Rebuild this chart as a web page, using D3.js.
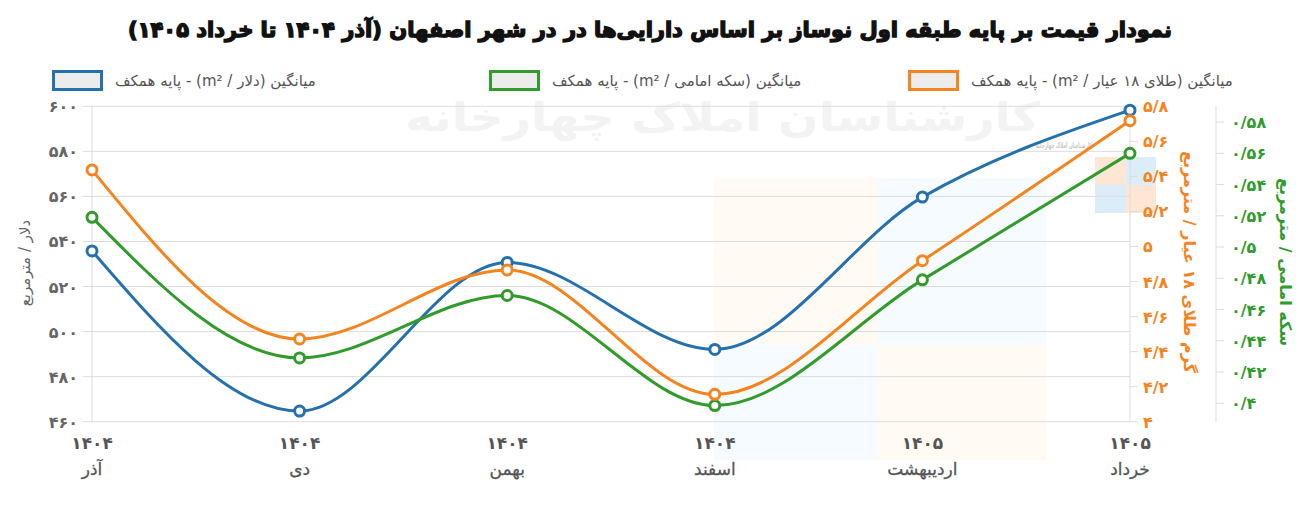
<!DOCTYPE html>
<html>
<head>
<meta charset="utf-8">
<script src="https://cdn.jsdelivr.net/npm/d3@7"></script>
<style>
  body { margin: 0; background: #fff; }
  svg { display: block; font-family: "DejaVu Sans", sans-serif; }
</style>
</head>
<body>
<div id="chart"></div>
<script>
// data
const months = ["آذر", "دی", "بهمن", "اسفند", "اردیبهشت", "خرداد"];
const years = [1404, 1404, 1404, 1404, 1405, 1405];
const dollarValues = [535.8, 464.7, 530.7, 492.1, 559.7, 598.3];
const goldValues = [5.437, 4.472, 4.866, 4.156, 4.919, 5.718];
const coinValues = [0.519, 0.429, 0.469, 0.3985, 0.479, 0.560];

const dollarTicks = [460, 480, 500, 520, 540, 560, 580, 600];
const goldTicks = [4, 4.2, 4.4, 4.6, 4.8, 5, 5.2, 5.4, 5.6, 5.8];
const coinTicks = [0.40, 0.42, 0.44, 0.46, 0.48, 0.50, 0.52, 0.54, 0.56, 0.58];

const legendLabels = [
    "میانگین (دلار / m²) - پایه همکف",
    "میانگین (سکه امامی / m²) - پایه همکف",
    "میانگین (طلای ۱۸ عیار / m²) - پایه همکف"
];

const blue = "#2471ad", green = "#319b2b", orange = "#f5841f";
const grid = "#dcdcdc";

const W = 1310, H = 524;
const plotTop = 106.3, plotBottom = 421.7, plotLeft = 92, plotRight = 1130;

// persian digits, slash as decimal sign like the original
function fa(v) {
    const s = String(+v.toFixed(2));
    return s.replace(/\d/g, c => "۰۱۲۳۴۵۶۷۸۹"[+c]).replace(".", "/");
}

const svg = d3.select("#chart").append("svg")
    .attr("width", W)
    .attr("height", H);

const x = d3.scalePoint().domain(d3.range(months.length)).range([plotLeft, plotRight]);
const yL = d3.scaleLinear().domain([460, 600]).range([plotBottom, plotTop]);
const yG = d3.scaleLinear().domain([4, 5.8]).range([plotBottom, plotTop]);
const yC = d3.scaleLinear().domain([0.3882, 0.5901]).range([plotBottom, plotTop]);

// faint watermark
const wm = svg.append("g");
const bgRects = [
    [714, 178, 164, 167, "#fffaf4"], [878, 178, 168, 167, "#f6fbff"],
    [714, 345, 164, 115, "#f6fbff"], [878, 345, 168, 115, "#fffaf4"],
    [1095, 157, 31, 28, "#fde6d3"], [1126, 157, 30, 28, "#dcedfa"],
    [1095, 185, 31, 28, "#dcedfa"], [1126, 185, 30, 28, "#fde6d3"]
];
wm.selectAll("rect").data(bgRects).enter().append("rect")
    .attr("x", d => d[0]).attr("y", d => d[1])
    .attr("width", d => d[2]).attr("height", d => d[3])
    .attr("fill", d => d[4]);
wm.append("text")
    .attr("x", 405).attr("y", 131)
    .attr("direction", "rtl").attr("text-anchor", "end")
    .attr("textLength", 635).attr("lengthAdjust", "spacingAndGlyphs")
    .style("font-size", "40px").style("font-weight", "bold")
    .attr("fill", "#f3f3f3")
    .text("کارشناسان املاک چهارخانه");
wm.append("text")
    .attr("x", 1036).attr("y", 148)
    .attr("direction", "rtl").attr("text-anchor", "end")
    .attr("textLength", 56).attr("lengthAdjust", "spacingAndGlyphs")
    .style("font-size", "8px").style("font-weight", "bold")
    .attr("fill", "#c8c8c8")
    .text("کارشناسان املاک چهارخانه");

// title
svg.append("text")
    .attr("x", 650).attr("y", 37)
    .attr("direction", "rtl").attr("text-anchor", "middle")
    .style("font-size", "21px").style("font-weight", "bold")
    .attr("fill", "#111").attr("stroke", "#111").attr("stroke-width", 1.4)
    .text("نمودار قیمت بر پایه طبقه اول نوساز بر اساس دارایی‌ها در در شهر اصفهان (آذر ۱۴۰۴ تا خرداد ۱۴۰۵)");

// legend
const legendX = [52, 489, 908];
const legendColors = [blue, green, orange];
const legend = svg.append("g");
legendLabels.forEach((lab, i) => {
    legend.append("rect")
        .attr("x", legendX[i] + 1.5).attr("y", 71.5)
        .attr("width", 48).attr("height", 18)
        .attr("fill", "#ececec")
        .attr("stroke", legendColors[i]).attr("stroke-width", 3);
    legend.append("text")
        .attr("x", legendX[i] + 63).attr("y", 86)
        .attr("direction", "rtl").attr("text-anchor", "end")
        .style("font-size", "15px")
        .attr("fill", "#555")
        .text(lab);
});

// horizontal grid (left axis)
svg.append("g").selectAll("line").data(dollarTicks).enter().append("line")
    .attr("x1", plotLeft - 9).attr("x2", plotRight)
    .attr("y1", d => yL(d)).attr("y2", d => yL(d))
    .attr("stroke", grid).attr("stroke-width", 1);

// axis lines
svg.append("line").attr("x1", plotLeft).attr("x2", plotLeft).attr("y1", plotTop).attr("y2", plotBottom).attr("stroke", grid);
svg.append("line").attr("x1", plotRight).attr("x2", plotRight).attr("y1", plotTop).attr("y2", plotBottom).attr("stroke", grid);

// left axis labels
svg.append("g").selectAll("text").data(dollarTicks).enter().append("text")
    .attr("x", 78).attr("y", d => yL(d) + 6)
    .attr("text-anchor", "end")
    .style("font-size", "16px").style("font-weight", "bold")
    .attr("fill", "#666")
    .text(d => fa(d));

// gold axis
const gAx = svg.append("g");
gAx.selectAll("line").data(goldTicks).enter().append("line")
    .attr("x1", plotRight).attr("x2", plotRight + 8)
    .attr("y1", d => yG(d)).attr("y2", d => yG(d))
    .attr("stroke", grid);
gAx.selectAll("text").data(goldTicks).enter().append("text")
    .attr("x", 1143).attr("y", d => yG(d) + 6)
    .attr("text-anchor", "start")
    .style("font-size", "16px").style("font-weight", "bold")
    .attr("fill", orange)
    .text(d => fa(d));

// coin axis
const cX = 1216;
const cAx = svg.append("g");
cAx.append("line").attr("x1", cX).attr("x2", cX).attr("y1", plotTop).attr("y2", plotBottom).attr("stroke", grid);
cAx.selectAll("line.t").data(coinTicks).enter().append("line")
    .attr("class", "t")
    .attr("x1", cX).attr("x2", cX + 8)
    .attr("y1", d => yC(d)).attr("y2", d => yC(d))
    .attr("stroke", grid);
cAx.selectAll("text").data(coinTicks).enter().append("text")
    .attr("x", 1231).attr("y", d => yC(d) + 6)
    .attr("text-anchor", "start")
    .style("font-size", "16px").style("font-weight", "bold")
    .attr("fill", green)
    .text(d => fa(d));

// axis titles
svg.append("text")
    .attr("transform", "translate(30,263) rotate(-90)")
    .attr("text-anchor", "middle").attr("direction", "rtl")
    .style("font-size", "15px")
    .attr("fill", "#666")
    .text("دلار / مترمربع");
svg.append("text")
    .attr("transform", "translate(1184,262) rotate(90)")
    .attr("text-anchor", "middle").attr("direction", "rtl")
    .style("font-size", "16px").style("font-weight", "bold")
    .attr("fill", orange)
    .text("گرم طلای ۱۸ عیار / مترمربع");
svg.append("text")
    .attr("transform", "translate(1280,262) rotate(90)")
    .attr("text-anchor", "middle").attr("direction", "rtl")
    .style("font-size", "16px").style("font-weight", "bold")
    .attr("fill", green)
    .text("سکه امامی / مترمربع");

// x labels
const xl = svg.append("g").selectAll("g").data(months).enter().append("g")
    .attr("transform", (d, i) => `translate(${x(i)},0)`);
xl.append("text")
    .attr("y", 449).attr("text-anchor", "middle")
    .style("font-size", "17px").style("font-weight", "bold")
    .attr("fill", "#555")
    .text((d, i) => fa(years[i]));
xl.append("text")
    .attr("y", 475).attr("text-anchor", "middle").attr("direction", "rtl")
    .style("font-size", "17px")
    .attr("fill", "#555").attr("stroke", "#555").attr("stroke-width", 0.3)
    .text(d => d);

// lines
const series = [
    { vals: goldValues, y: yG, color: orange },
    { vals: dollarValues, y: yL, color: blue },
    { vals: coinValues, y: yC, color: green }
];
const drawOrder = [series[1], series[2], series[0]];
drawOrder.forEach(s => {
    const line = d3.line()
        .x((d, i) => x(i))
        .y(d => s.y(d))
        .curve(d3.curveMonotoneX);
    svg.append("path")
        .datum(s.vals)
        .attr("fill", "none")
        .attr("stroke", s.color)
        .attr("stroke-width", 3)
        .attr("d", line);
    svg.append("g").selectAll("circle").data(s.vals).enter().append("circle")
        .attr("cx", (d, i) => x(i))
        .attr("cy", d => s.y(d))
        .attr("r", 5)
        .attr("fill", "#fff")
        .attr("stroke", s.color)
        .attr("stroke-width", 3);
});
</script>
</body>
</html>
